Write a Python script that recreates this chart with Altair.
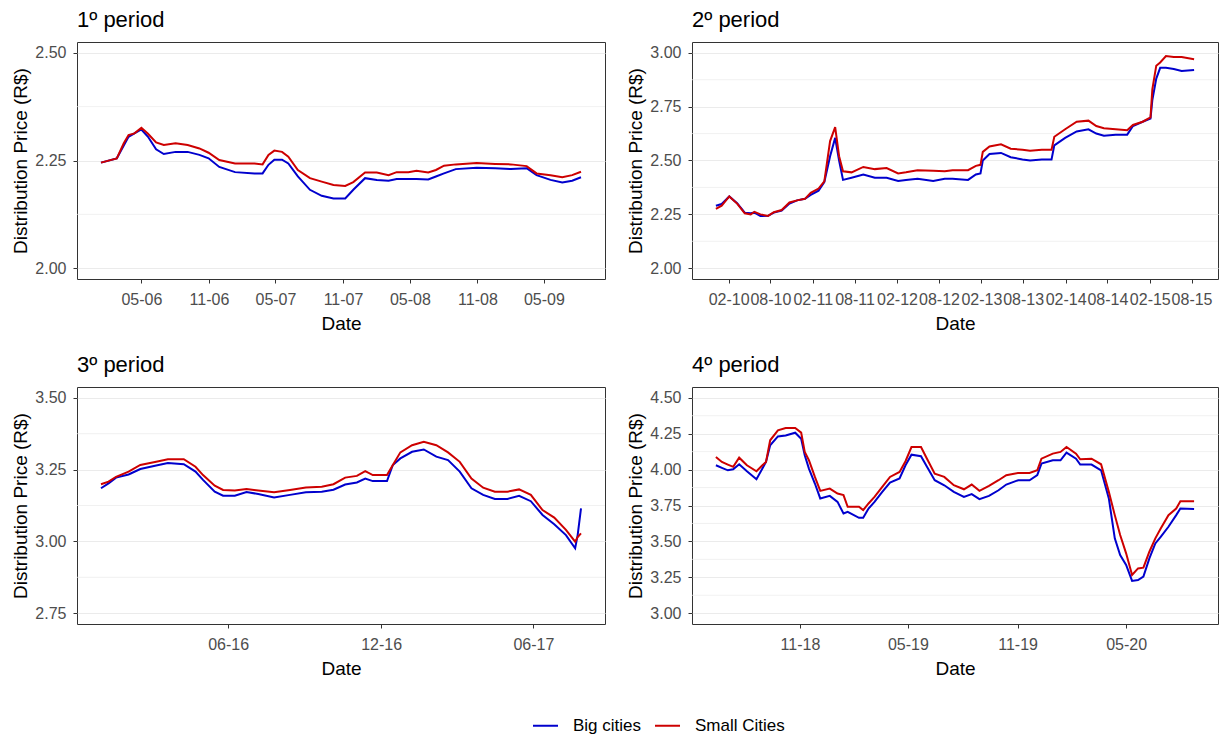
import altair as alt
import numpy as np
import pandas as pd

FONT = "Liberation Sans, Arial, Helvetica, sans-serif"
BLUE = "#0000CD"
RED = "#CD0000"

series_names = ["Big cities", "Small Cities"]
panel_titles = ["1º period", "2º period", "3º period", "4º period"]

# ---------------- Panel 1 ----------------
p1_dates = ["2006-01-11", "2006-02-23", "2006-03-14", "2006-03-27", "2006-04-12", "2006-05-01",
            "2006-05-19", "2006-06-10", "2006-07-01", "2006-08-02", "2006-09-04", "2006-10-06",
            "2006-10-31", "2006-11-29", "2007-01-11", "2007-03-05", "2007-03-27", "2007-04-12",
            "2007-04-28", "2007-05-19", "2007-06-05", "2007-07-01", "2007-08-03", "2007-09-04",
            "2007-10-06", "2007-11-07", "2007-11-29", "2007-12-31", "2008-02-01", "2008-03-04",
            "2008-03-26", "2008-04-27", "2008-05-19", "2008-06-20", "2008-07-11", "2008-08-02",
            "2008-09-03", "2008-10-30", "2008-12-19", "2009-01-31", "2009-03-15", "2009-04-11",
            "2009-05-19", "2009-06-20", "2009-07-17", "2009-08-10"]
p1_small = [2.245, 2.255, 2.29, 2.309, 2.313, 2.326, 2.312, 2.292, 2.286, 2.29, 2.286, 2.278, 2.268, 2.251,
            2.243, 2.243, 2.241, 2.263, 2.273, 2.27, 2.259, 2.228, 2.209, 2.201, 2.193, 2.191, 2.2, 2.222,
            2.222, 2.216, 2.223, 2.223, 2.226, 2.222, 2.228, 2.238, 2.241, 2.244, 2.242,
            2.241, 2.237, 2.22, 2.216, 2.211, 2.216, 2.224]
p1_big = [2.245, 2.255, 2.285, 2.305, 2.313, 2.322, 2.305, 2.276, 2.265, 2.27, 2.27, 2.263, 2.255, 2.235,
          2.223, 2.22, 2.22, 2.24, 2.252, 2.252, 2.243, 2.213, 2.182, 2.168, 2.162, 2.162, 2.182, 2.209,
          2.205, 2.203, 2.207, 2.207, 2.207, 2.206, 2.213, 2.22, 2.23, 2.233, 2.232,
          2.23, 2.232, 2.216, 2.205, 2.199, 2.203, 2.211]
p1_limits = [2.0, 2.5]
p1_xticks = ["2006-05-01", "2006-11-01", "2007-05-01", "2007-11-01", "2008-05-01", "2008-11-01", "2009-05-01"]

# ---------------- Panel 2 ----------------
p2_dates = ["2009-12-08", "2010-01-02", "2010-02-04", "2010-03-10", "2010-04-12", "2010-05-08",
            "2010-05-24", "2010-06-19", "2010-07-22", "2010-08-16", "2010-09-19", "2010-10-23",
            "2010-11-25", "2010-12-29", "2011-01-23", "2011-02-26", "2011-03-23", "2011-04-17",
            "2011-05-09", "2011-05-26", "2011-06-12", "2011-07-19", "2011-09-08", "2011-10-28",
            "2011-12-18", "2012-02-06", "2012-03-11", "2012-04-30", "2012-07-07", "2012-08-26",
            "2012-09-29", "2012-12-05", "2013-01-08", "2013-01-28", "2013-02-07", "2013-03-08",
            "2013-04-27", "2013-06-08", "2013-07-29", "2013-08-31", "2013-10-21", "2013-12-02",
            "2013-12-14", "2014-01-30", "2014-03-21", "2014-05-11", "2014-06-14", "2014-07-17",
            "2014-09-06", "2014-10-26", "2014-11-20", "2015-01-01", "2015-02-04", "2015-02-12",
            "2015-03-01", "2015-03-18", "2015-04-12", "2015-05-16", "2015-06-19", "2015-08-12"]
p2_small = [2.275, 2.29, 2.333, 2.30, 2.255, 2.25, 2.262, 2.25, 2.243, 2.26,
            2.27, 2.305, 2.315, 2.322, 2.35, 2.37, 2.403, 2.59, 2.655, 2.52,
            2.45, 2.445, 2.47, 2.46, 2.465, 2.44, 2.445, 2.455, 2.452, 2.45,
            2.455, 2.455, 2.475, 2.48, 2.54, 2.565, 2.575, 2.555, 2.55, 2.545,
            2.55, 2.55, 2.61, 2.645, 2.68, 2.685, 2.66, 2.65, 2.645, 2.64,
            2.665, 2.68, 2.70, 2.83, 2.94, 2.955, 2.985, 2.98, 2.98, 2.97]
p2_big = [2.29, 2.298, 2.333, 2.302, 2.258, 2.255, 2.258, 2.242, 2.243, 2.258,
          2.268, 2.30, 2.315, 2.322, 2.34, 2.36, 2.40, 2.52, 2.605, 2.50,
          2.41, 2.42, 2.435, 2.42, 2.42, 2.405, 2.41, 2.415, 2.405, 2.415,
          2.415, 2.41, 2.435, 2.44, 2.50, 2.53, 2.535, 2.515, 2.505, 2.50,
          2.505, 2.505, 2.57, 2.605, 2.635, 2.645, 2.625, 2.615, 2.62, 2.62,
          2.66, 2.68, 2.695, 2.78, 2.88, 2.93, 2.93, 2.925, 2.915, 2.92]
p2_limits = [2.0, 3.0]
p2_xticks = ["2010-02-01", "2010-08-01", "2011-02-01", "2011-08-01", "2012-02-01", "2012-08-01",
             "2013-02-01", "2013-08-01", "2014-02-01", "2014-08-01", "2015-02-01", "2015-08-01"]

# ---------------- Panel 3 ----------------
p3_dates = ["2016-01-01", "2016-01-10", "2016-01-19", "2016-02-03", "2016-02-17", "2016-03-07",
            "2016-03-21", "2016-04-09", "2016-04-23", "2016-05-02", "2016-05-16", "2016-05-26",
            "2016-06-09", "2016-06-23", "2016-07-07", "2016-07-26", "2016-08-14", "2016-09-02",
            "2016-09-21", "2016-10-05", "2016-10-19", "2016-11-02", "2016-11-12", "2016-11-21",
            "2016-12-08", "2016-12-15", "2016-12-24", "2017-01-07", "2017-01-21", "2017-02-05",
            "2017-02-19", "2017-03-05", "2017-03-19", "2017-04-02", "2017-04-16", "2017-05-01",
            "2017-05-15", "2017-05-29", "2017-06-12", "2017-06-26", "2017-07-10", "2017-07-21",
            "2017-07-24", "2017-07-28"]
p3_small = [3.199, 3.208, 3.225, 3.243, 3.266, 3.277, 3.286, 3.286, 3.26, 3.231,
            3.194, 3.179, 3.177, 3.182, 3.177, 3.171, 3.179, 3.188, 3.19, 3.199,
            3.222, 3.228, 3.245, 3.231, 3.231, 3.266, 3.31,
            3.335, 3.347, 3.335, 3.31, 3.277, 3.219, 3.187, 3.173, 3.173, 3.181,
            3.162, 3.109, 3.083, 3.04, 2.999, 3.015, 3.028]
p3_big = [3.185, 3.202, 3.222, 3.233, 3.252, 3.264, 3.273, 3.269, 3.243, 3.214,
          3.173, 3.159, 3.159, 3.172, 3.165, 3.153, 3.162, 3.171, 3.173, 3.18,
          3.198, 3.205, 3.219, 3.21, 3.21, 3.266, 3.289,
          3.312, 3.32, 3.295, 3.283, 3.243, 3.185, 3.162, 3.148, 3.148, 3.159,
          3.14, 3.092, 3.06, 3.022, 2.976, 3.022, 3.115]
p3_limits = [2.75, 3.5]
p3_xticks = ["2016-06-01", "2016-12-01", "2017-06-01"]

# ---------------- Panel 4 ----------------
p4_dates = ["2018-06-13", "2018-06-23", "2018-07-03", "2018-07-12", "2018-07-22", "2018-08-04",
            "2018-08-20", "2018-08-30", "2018-09-05", "2018-09-12", "2018-09-25", "2018-10-08",
            "2018-10-24", "2018-11-03", "2018-11-09", "2018-11-16", "2018-11-26", "2018-12-05",
            "2018-12-21", "2019-01-03", "2019-01-13", "2019-01-20", "2019-02-08", "2019-02-15",
            "2019-02-24", "2019-03-06", "2019-03-19", "2019-04-01", "2019-04-17", "2019-04-27",
            "2019-05-07", "2019-05-23", "2019-06-02", "2019-06-15", "2019-07-01", "2019-07-17",
            "2019-08-03", "2019-08-16", "2019-08-29", "2019-09-14", "2019-09-30", "2019-10-13",
            "2019-11-02", "2019-11-21", "2019-12-04", "2019-12-11", "2019-12-30", "2020-01-12",
            "2020-01-22", "2020-02-07", "2020-02-14", "2020-03-04", "2020-03-20", "2020-04-02",
            "2020-04-12", "2020-04-21", "2020-05-01", "2020-05-11", "2020-05-21", "2020-05-30",
            "2020-06-09", "2020-06-19", "2020-06-28", "2020-07-11", "2020-07-24", "2020-07-31",
            "2020-08-23"]
p4_small = [4.088, 4.053, 4.035, 4.019, 4.083, 4.03, 3.988, 4.03, 4.053, 4.204,
            4.273, 4.289, 4.289, 4.257, 4.123, 4.065, 3.949, 3.852, 3.868, 3.833,
            3.822, 3.741, 3.741, 3.718, 3.764, 3.81, 3.88, 3.949, 3.984, 4.058,
            4.157, 4.157, 4.076, 3.972, 3.949, 3.891, 3.863, 3.896, 3.852, 3.887,
            3.926, 3.961, 3.977, 3.977, 3.995, 4.076, 4.111, 4.123, 4.157, 4.111,
            4.072, 4.076, 4.037, 3.845, 3.683, 3.544, 3.417, 3.266, 3.312, 3.317,
            3.428, 3.521, 3.59, 3.683, 3.729, 3.78, 3.78]
p4_big = [4.03, 4.012, 3.995, 4.002, 4.037, 3.988, 3.933, 4.007, 4.053, 4.169,
          4.231, 4.238, 4.257, 4.215, 4.1, 4.007, 3.903, 3.799, 3.817, 3.775,
          3.694, 3.706, 3.664, 3.664, 3.729, 3.775, 3.845, 3.91, 3.938, 4.03,
          4.104, 4.093, 4.019, 3.926, 3.891, 3.845, 3.81, 3.829, 3.794, 3.817,
          3.856, 3.896, 3.926, 3.926, 3.961, 4.042, 4.065, 4.065, 4.118, 4.076,
          4.035, 4.035, 3.995, 3.799, 3.521, 3.405, 3.336, 3.225, 3.231, 3.255,
          3.382, 3.486, 3.532, 3.602, 3.683, 3.729, 3.725]
p4_limits = [3.0, 4.5]
p4_xticks = ["2018-11-01", "2019-05-01", "2019-11-01", "2020-05-01"]

Y_STEP = 0.25


def ms(ts):
    return int(pd.Timestamp(ts).value // 10**6)


legend = alt.Legend(
    title=None, orient="none", legendX=455, legendY=670, direction="horizontal",
    symbolType="stroke", symbolSize=625, symbolStrokeWidth=2,
    labelFontSize=17, labelFont=FONT, labelColor="black", labelOffset=14,
    columnPadding=9, padding=0,
)


def make_panel(title, dates, big, small, limits, xticks, w, h):
    n = len(dates)
    df = pd.DataFrame({
        "date": list(dates) + list(dates),
        "price": list(big) + list(small),
        "series": [series_names[0]] * n + [series_names[1]] * n,
    })
    t = pd.to_datetime(pd.Series(dates), utc=True)
    t0, t1 = t.min(), t.max()
    pad = (t1 - t0) * 0.05
    xdom = [ms(t0 - pad), ms(t1 + pad)]
    lo, hi = limits
    e = (hi - lo) * 0.05
    ydom = [lo - e, hi + e]
    majors = [round(v, 3) for v in np.arange(lo, hi + 1e-9, Y_STEP)]
    minors = [round(v + Y_STEP / 2, 4) for v in majors[:-1]]
    tick_ms = [ms(pd.Timestamp(d, tz="UTC")) for d in xticks]

    yscale = alt.Scale(domain=ydom, nice=False, zero=False)
    xscale = alt.Scale(type="utc", domain=xdom, nice=False)
    yaxis = alt.Axis(values=majors, format=".2f", title="Distribution Price (R$)",
                     grid=True, labelOverlap=False)

    minor = alt.Chart(pd.DataFrame({"price": minors})).mark_rule(
        color="#EBEBEB", strokeWidth=0.7
    ).encode(y=alt.Y("price:Q", scale=yscale, axis=yaxis))

    lines = alt.Chart(df).mark_line(strokeWidth=2).encode(
        x=alt.X("date:T", scale=xscale,
                axis=alt.Axis(values=tick_ms, labelExpr="utcFormat(datum.value, '%m-%y')",
                              title="Date", grid=False, labelOverlap=False, labelFlush=False)),
        y=alt.Y("price:Q", scale=yscale, axis=yaxis),
        color=alt.Color("series:N", scale=alt.Scale(domain=series_names, range=[BLUE, RED]),
                        legend=legend),
    )
    return alt.layer(minor, lines).properties(
        width=w, height=h, title=alt.TitleParams(title)
    )


c1 = make_panel(panel_titles[0], p1_dates, p1_big, p1_small, p1_limits, p1_xticks, 528, 237)
c2 = make_panel(panel_titles[1], p2_dates, p2_big, p2_small, p2_limits, p2_xticks, 526, 237)
c3 = make_panel(panel_titles[2], p3_dates, p3_big, p3_small, p3_limits, p3_xticks, 528, 237)
c4 = make_panel(panel_titles[3], p4_dates, p4_big, p4_small, p4_limits, p4_xticks, 526, 237)

# 2x2 grid; "flush" bounds: spacing is the gap between the panel borders themselves
chart = alt.concat(
    c1, c2, c3, c4, columns=2, bounds="flush", spacing={"row": 108, "column": 87}
).properties(
    autosize=alt.AutoSizeParams(type="none"),
    padding={"left": 69, "top": 34, "right": 1142, "bottom": 700},
).configure(font=FONT, background="white").configure_view(
    stroke="#333333", strokeWidth=1
).configure_axis(
    domain=False, tickColor="#333333", tickSize=4, tickWidth=1,
    labelColor="#4D4D4D", labelFontSize=16, labelFont=FONT,
    titleFontSize=19, titleColor="black", titleFontWeight="normal", titleFont=FONT,
    gridColor="#EBEBEB", gridWidth=1.2,
).configure_axisX(labelPadding=8, titlePadding=7).configure_axisY(
    labelPadding=7, titlePadding=4
).configure_title(
    fontSize=22, fontWeight="normal", anchor="start", frame="group", offset=10,
    baseline="alphabetic", color="black", font=FONT,
)

chart.save("out.html", embed_options={"renderer": "svg", "actions": False})
